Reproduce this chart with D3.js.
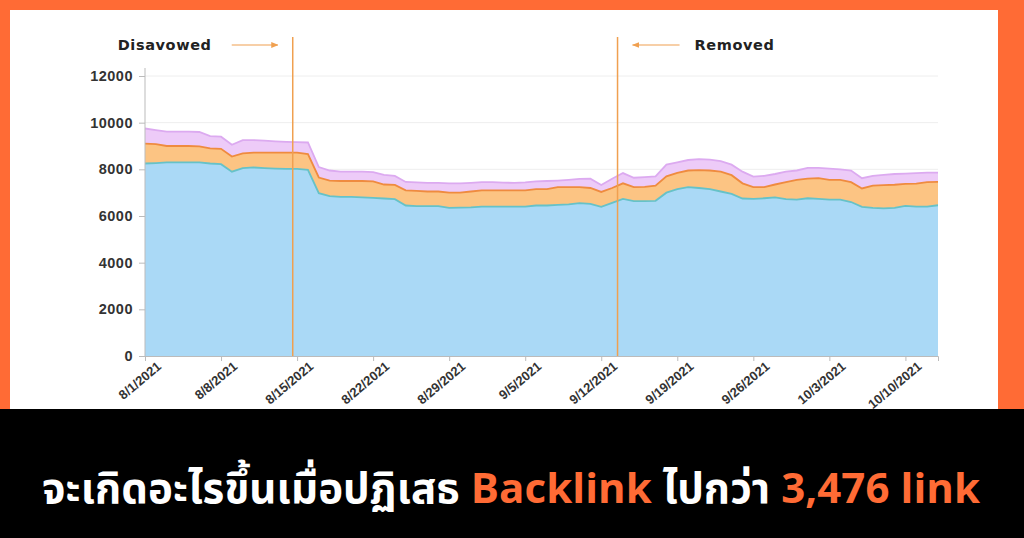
<!DOCTYPE html><html><head><meta charset="utf-8"><script src="https://cdn.jsdelivr.net/npm/d3@7"></script>
<style>body{margin:0;background:#ff6b35;}svg{display:block}</style></head><body><svg id="c" width="1024" height="538"></svg>
<script>
const startDate = "2021-08-01";
const blue = [8250,8270,8300,8300,8300,8300,8250,8220,7900,8050,8080,8050,8030,8020,8020,7980,6980,6850,6820,6820,6800,6780,6750,6720,6450,6420,6420,6420,6350,6360,6370,6400,6400,6400,6400,6400,6450,6450,6480,6500,6550,6520,6390,6560,6730,6640,6640,6650,7000,7150,7240,7200,7150,7050,6950,6750,6730,6760,6800,6720,6700,6760,6730,6700,6700,6600,6390,6350,6330,6350,6430,6400,6400,6460];
const orange = [9100,9080,9000,9000,9000,8980,8900,8880,8550,8680,8720,8720,8720,8720,8720,8650,7650,7520,7500,7500,7500,7480,7350,7330,7100,7080,7050,7050,7000,7000,7050,7100,7100,7100,7100,7100,7150,7150,7240,7240,7240,7200,7030,7200,7400,7240,7250,7300,7700,7850,7950,7970,7950,7900,7750,7400,7240,7240,7350,7450,7550,7600,7620,7550,7550,7450,7180,7300,7320,7340,7380,7390,7450,7460];
const purple = [9750,9680,9620,9620,9620,9600,9420,9400,9050,9250,9250,9230,9200,9180,9170,9150,8100,7950,7900,7900,7900,7880,7760,7720,7460,7440,7420,7420,7400,7400,7420,7450,7450,7430,7420,7440,7480,7500,7520,7550,7590,7600,7330,7600,7840,7640,7670,7700,8200,8300,8400,8440,8420,8350,8200,7900,7690,7720,7800,7900,7950,8060,8060,8030,8000,7950,7620,7720,7760,7800,7820,7840,7860,7860];
const yTicks = [0,2000,4000,6000,8000,10000,12000];
const xTickLabels = ["8/1/2021","8/8/2021","8/15/2021","8/22/2021","8/29/2021","9/5/2021","9/12/2021","9/19/2021","9/26/2021","10/3/2021","10/10/2021"];
const events = [{label:"Disavowed", day:13.6, dir:1},{label:"Removed", day:43.5, dir:-1}];

const svg = d3.select("#c");
svg.append("rect").attr("x",10).attr("y",10).attr("width",988).attr("height",400).attr("fill","#fff");
const x = d3.scaleLinear().domain([0,73]).range([145,938]);
const y = d3.scaleLinear().domain([0,12000]).range([356,76]);
const g = svg.append("g").attr("font-family","DejaVu Sans, sans-serif");
g.selectAll(".gl").data(yTicks.slice(1)).join("line").attr("x1",145).attr("x2",938).attr("y1",d=>y(d)).attr("y2",d=>y(d)).attr("stroke","#eee");
const idx = d3.range(blue.length);
const layers = [
 {lo:()=>0, hi:i=>blue[i], fill:"#aad9f6", line:"#66c2c8"},
 {lo:i=>blue[i], hi:i=>orange[i], fill:"#fcc483", line:"#ef8b3f"},
 {lo:i=>orange[i], hi:i=>purple[i], fill:"#edcbf8", line:"#dcaaf0"}];
layers.forEach(L=>{
 g.append("path").datum(idx).attr("fill",L.fill).attr("d",d3.area().x(i=>x(i)).y0(i=>y(L.lo(i))).y1(i=>y(L.hi(i))));
});
layers.forEach(L=>{
 g.append("path").datum(idx).attr("fill","none").attr("stroke",L.line).attr("stroke-width",1.8).attr("d",d3.line().x(i=>x(i)).y(i=>y(L.hi(i))));
});
const ya = g.append("g").attr("transform","translate(145,0)").call(d3.axisLeft(y).tickValues(yTicks).tickSize(6).tickPadding(6).tickFormat(d3.format("d")));
ya.select(".domain").attr("stroke","#bbb").attr("d","M-0,68V356");
ya.selectAll(".tick line").attr("stroke","#bbb");
ya.selectAll("text").attr("font-size",14.5).attr("font-weight","bold").attr("fill","#333").attr("letter-spacing","0.5");
const xa = g.append("g").attr("transform","translate(0,356)").call(d3.axisBottom(x).tickValues(d3.range(0,71,7)).tickSize(5).tickFormat((d,i)=>xTickLabels[i]));
xa.select(".domain").attr("stroke","#bbb");
xa.selectAll(".tick line").attr("stroke","#bbb");
xa.selectAll("text").attr("font-size",13).attr("font-weight","bold").attr("fill","#333").attr("text-anchor","end").attr("transform","rotate(-40)").attr("dx","0.4em").attr("dy","0.9em");
svg.append("defs").append("marker").attr("id","ah").attr("viewBox","0 0 10 10").attr("refX",9).attr("refY",5).attr("markerWidth",6).attr("markerHeight",6).attr("orient","auto").append("path").attr("d","M0,1L10,5L0,9Z").attr("fill","#f0a050");
events.forEach(e=>{
 const ex = x(e.day);
 g.append("line").attr("x1",ex).attr("x2",ex).attr("y1",37).attr("y2",356).attr("stroke","#f0a050").attr("stroke-width",1.5);
 const tx = g.append("text").attr("y",50).text(e.label).attr("font-size",14.5).attr("font-weight","bold").attr("fill","#222").attr("letter-spacing","0.6");
 if(e.dir>0){
  tx.attr("x",ex-175);
  g.append("line").attr("x1",ex-61).attr("x2",ex-15).attr("y1",45).attr("y2",45).attr("stroke","#f0a050").attr("stroke-width",1.2).attr("marker-end","url(#ah)");
 } else {
  tx.attr("x",ex+77);
  g.append("line").attr("x1",ex+62).attr("x2",ex+15).attr("y1",45).attr("y2",45).attr("stroke","#f0a050").attr("stroke-width",1.2).attr("marker-end","url(#ah)");
 }
});
svg.append("rect").attr("x",0).attr("y",409).attr("width",1024).attr("height",129).attr("fill","#000");
const t = svg.append("text").attr("x",511).attr("y",503).attr("text-anchor","middle").attr("font-family","'Noto Sans Thai','Noto Sans','Noto Sans CJK SC',sans-serif").attr("font-weight","bold").attr("font-size",42).attr("fill","#fff").attr("textLength",938).attr("lengthAdjust","spacing");
t.append("tspan").text("จะเกิดอะไรขึ้นเมื่อปฏิเสธ ");
t.append("tspan").attr("fill","#ff6b35").text("Backlink");
t.append("tspan").text(" ไปกว่า ");
t.append("tspan").attr("fill","#ff6b35").text("3,476 link");
</script></body></html>
